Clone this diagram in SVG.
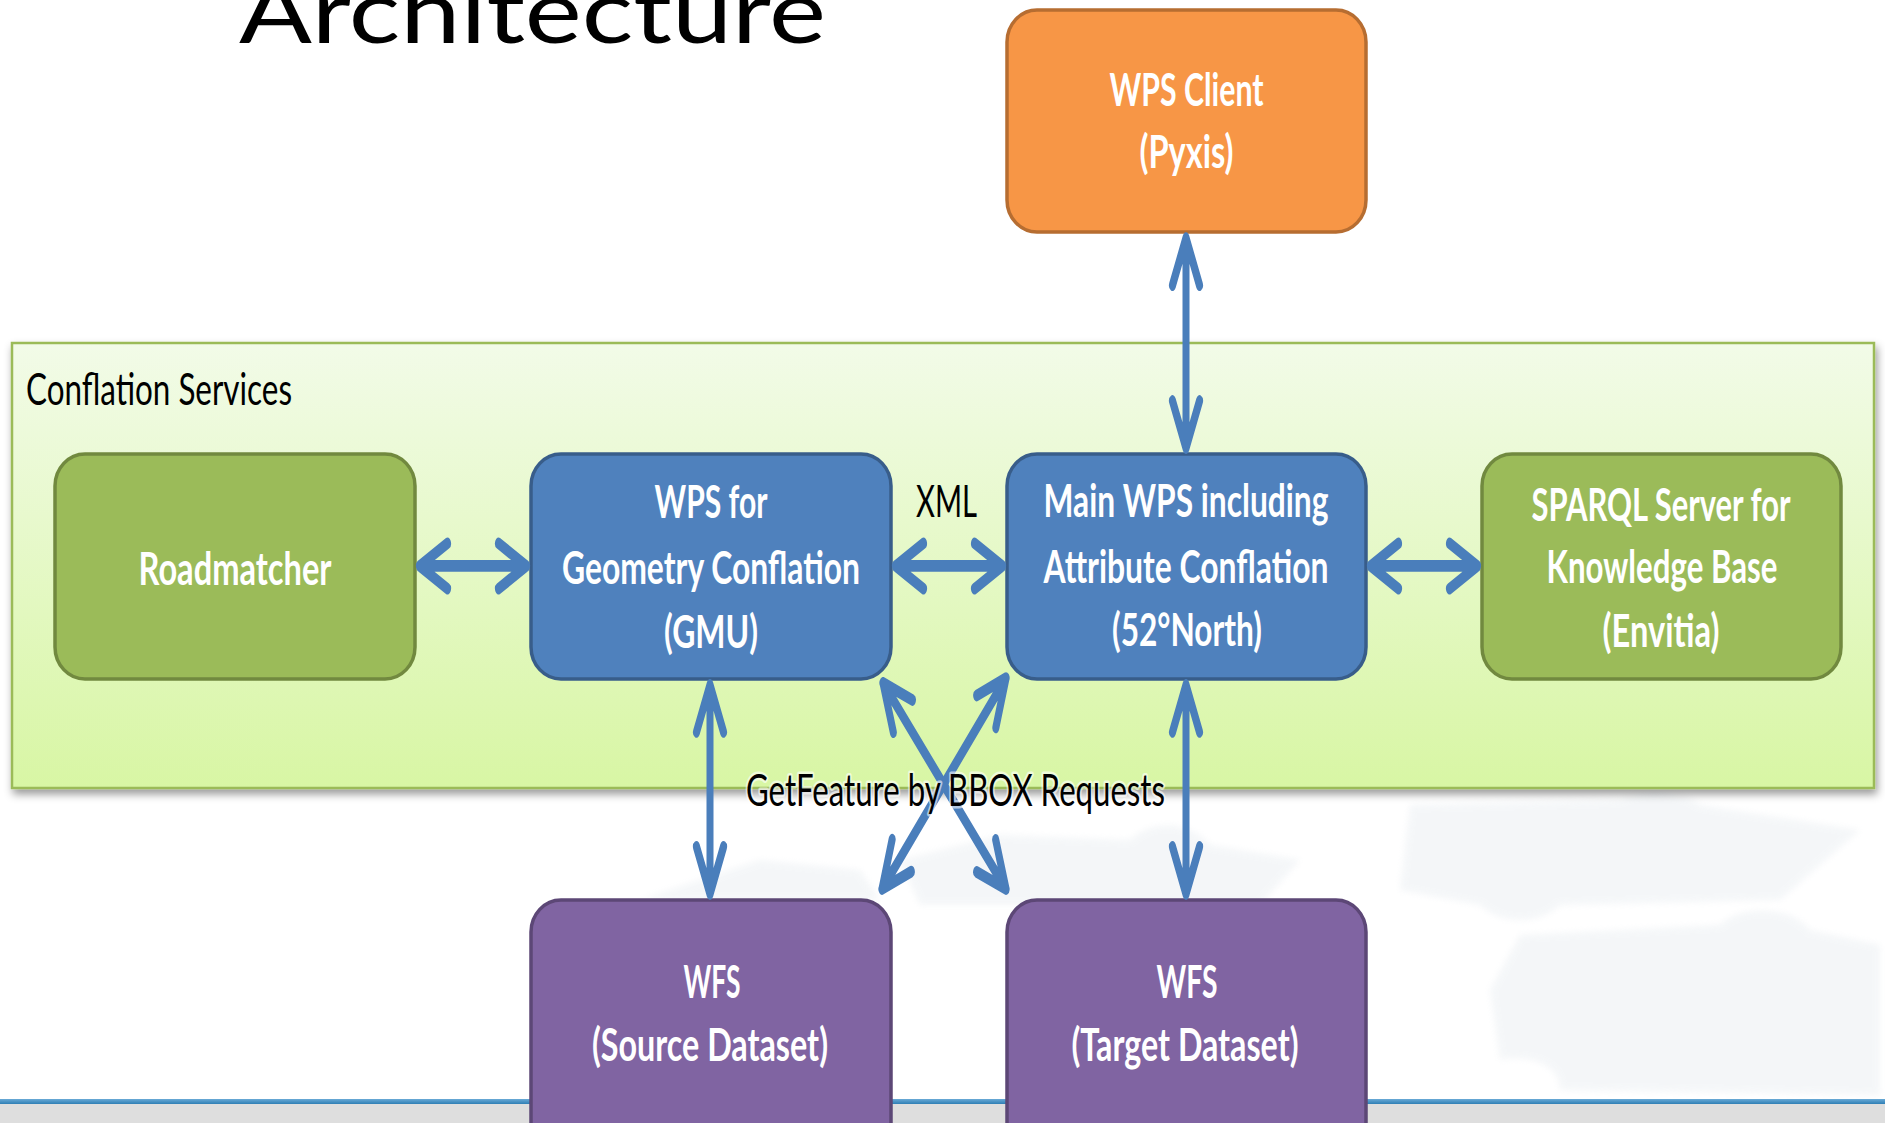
<svg xmlns="http://www.w3.org/2000/svg" width="1885" height="1123" viewBox="0 0 1885 1123">
<style>
.node rect{stroke-width:3.5}
.wt{font-family:Lato,"Open Sans","Liberation Sans",sans-serif;font-size:46px;font-weight:700;fill:#ffffff;text-anchor:middle}
.bt{font-family:Lato,"Open Sans","Liberation Sans",sans-serif;font-size:45px;font-weight:400;fill:#000000}
.green rect{fill:#9bbb59;stroke:#71893f}
.blue rect{fill:#4f81bd;stroke:#385d8a}
.purple rect{fill:#8064a2;stroke:#5c4776}
.orange rect{fill:#f79646;stroke:#b66d31}
.conn{fill:none;stroke:#4a7ebb;stroke-width:7;stroke-linecap:round;stroke-linejoin:round}
</style>
<defs>
<linearGradient id="cg" x1="0" y1="0" x2="0" y2="1">
<stop offset="0" stop-color="#f2fbe8"/>
<stop offset="1" stop-color="#d8f6a4"/>
</linearGradient>
<linearGradient id="bl" x1="0" y1="0" x2="0" y2="1">
<stop offset="0" stop-color="#6aaad6"/>
<stop offset="1" stop-color="#2f7fb5"/>
</linearGradient>
<filter id="sh" x="-5%" y="-10%" width="110%" height="125%">
<feDropShadow dx="2" dy="5" stdDeviation="4" flood-color="#000" flood-opacity="0.4"/>
</filter>
<filter id="soft" x="-10%" y="-10%" width="120%" height="120%">
<feGaussianBlur stdDeviation="3"/>
</filter>
</defs>
<rect x="0" y="0" width="1885" height="1123" fill="#ffffff"/>
<g id="background" fill="#e8edf1" opacity="0.45" filter="url(#soft)">
<path d="M1410,805 L1620,800 C1640,790 1680,790 1700,805 L1860,830 L1780,900 L1560,905 C1540,925 1500,925 1480,905 L1400,890 Z"/>
<path d="M1520,935 L1720,925 C1740,905 1790,905 1810,930 L1880,945 L1880,1095 L1560,1090 C1560,1060 1520,1055 1500,1060 L1490,990 Z"/>
<path d="M900,860 L1000,835 L1130,840 C1150,820 1190,820 1210,845 L1300,860 L1260,905 L920,905 Z"/>
<path d="M640,900 L760,860 L860,870 L880,900 Z"/>
</g>
<rect x="0" y="1104" width="1885" height="19" fill="#dedede"/>
<rect x="0" y="1099" width="1885" height="5" fill="url(#bl)"/>
<text x="239" y="43" class="bt" style="font-size:90px" textLength="587" lengthAdjust="spacingAndGlyphs">Architecture</text>
<g id="container">
<rect x="12" y="343" width="1862" height="445" fill="url(#cg)" stroke="#9bbb59" stroke-width="2.5" filter="url(#sh)"/>
<text x="26" y="405" class="bt" textLength="266" lengthAdjust="spacingAndGlyphs">Conflation Services</text>
</g>
<g id="wps-client" class="node orange">
<rect x="1007" y="10" width="359" height="222" rx="30" ry="32"/>
<text class="wt" x="1186.5" y="106" textLength="154" lengthAdjust="spacingAndGlyphs">WPS Client</text>
<text class="wt" x="1186.5" y="168" textLength="94" lengthAdjust="spacingAndGlyphs">(Pyxis)</text>
</g>
<g id="roadmatcher" class="node green">
<rect x="55" y="454" width="360" height="225" rx="30" ry="32"/>
<text class="wt" x="235" y="585" textLength="193" lengthAdjust="spacingAndGlyphs">Roadmatcher</text>
</g>
<g id="wps-geometry" class="node blue">
<rect x="531" y="454" width="360" height="225" rx="30" ry="32"/>
<text class="wt" x="711" y="518" textLength="113" lengthAdjust="spacingAndGlyphs">WPS for</text>
<text class="wt" x="711" y="584" textLength="298" lengthAdjust="spacingAndGlyphs">Geometry Conflation</text>
<text class="wt" x="711" y="648" textLength="94" lengthAdjust="spacingAndGlyphs">(GMU)</text>
</g>
<g id="main-wps" class="node blue">
<rect x="1007" y="454" width="359" height="225" rx="30" ry="32"/>
<text class="wt" x="1186" y="517" textLength="285" lengthAdjust="spacingAndGlyphs">Main WPS including</text>
<text class="wt" x="1186" y="583" textLength="285" lengthAdjust="spacingAndGlyphs">Attribute Conflation</text>
<text class="wt" x="1187" y="646" textLength="150" lengthAdjust="spacingAndGlyphs">(52°North)</text>
</g>
<g id="sparql" class="node green">
<rect x="1482" y="454" width="359" height="225" rx="30" ry="32"/>
<text class="wt" x="1661" y="521" textLength="259" lengthAdjust="spacingAndGlyphs">SPARQL Server for</text>
<text class="wt" x="1662" y="583" textLength="231" lengthAdjust="spacingAndGlyphs">Knowledge Base</text>
<text class="wt" x="1661" y="647" textLength="117" lengthAdjust="spacingAndGlyphs">(Envitia)</text>
</g>
<g id="wfs-source" class="node purple">
<rect x="531" y="900" width="360" height="260" rx="30" ry="32"/>
<text class="wt" x="712" y="998" textLength="57" lengthAdjust="spacingAndGlyphs">WFS</text>
<text class="wt" x="710" y="1061" textLength="236" lengthAdjust="spacingAndGlyphs">(Source Dataset)</text>
</g>
<g id="wfs-target" class="node purple">
<rect x="1007" y="900" width="359" height="260" rx="30" ry="32"/>
<text class="wt" x="1187" y="998" textLength="61" lengthAdjust="spacingAndGlyphs">WFS</text>
<text class="wt" x="1185" y="1061" textLength="227" lengthAdjust="spacingAndGlyphs">(Target Dataset)</text>
</g>
<g id="connectors" class="conn" transform="scale(1,1.68)">
<path d="M419.5,336.9 H526.5 M447.5,323.4 L419.5,336.9 L447.5,350.4 M498.5,323.4 L526.5,336.9 L498.5,350.4"/>
<path d="M895.5,336.9 H1002.5 M923.5,323.4 L895.5,336.9 L923.5,350.4 M974.5,323.4 L1002.5,336.9 L974.5,350.4"/>
<path d="M1370.5,336.9 H1477.5 M1398.5,323.4 L1370.5,336.9 L1398.5,350.4 M1449.5,323.4 L1477.5,336.9 L1449.5,350.4"/>
<path d="M1186,141.7 V266.7 M1172.5,169.7 L1186,141.7 L1199.5,169.7 M1172.5,238.7 L1186,266.7 L1199.5,238.7"/>
<path d="M710,407.7 V532.1 M696.5,435.7 L710,407.7 L723.5,435.7 M696.5,504.1 L710,532.1 L723.5,504.1"/>
<path d="M1186,407.7 V532.1 M1172.5,435.7 L1186,407.7 L1199.5,435.7 M1172.5,504.1 L1186,532.1 L1199.5,504.1"/>
<path d="M883,406.5 L1006,529.2 M912.4,416.7 L883,406.5 L893.3,435.8 M995.7,499.9 L1006,529.2 L976.6,519"/>
<path d="M1006,403.6 L882,529.2 M995.9,433 L1006,403.6 L976.7,414 M911.3,518.8 L882,529.2 L892.1,499.8"/>
</g>
<g id="labels">
<text class="bt" x="916" y="517" textLength="61" lengthAdjust="spacingAndGlyphs">XML</text>
<text class="bt" x="746" y="806" textLength="419" lengthAdjust="spacingAndGlyphs" style="stroke:#ffffff;stroke-width:5;stroke-opacity:0.6;paint-order:stroke;stroke-linejoin:round">GetFeature by BBOX Requests</text>
</g>
</svg>
